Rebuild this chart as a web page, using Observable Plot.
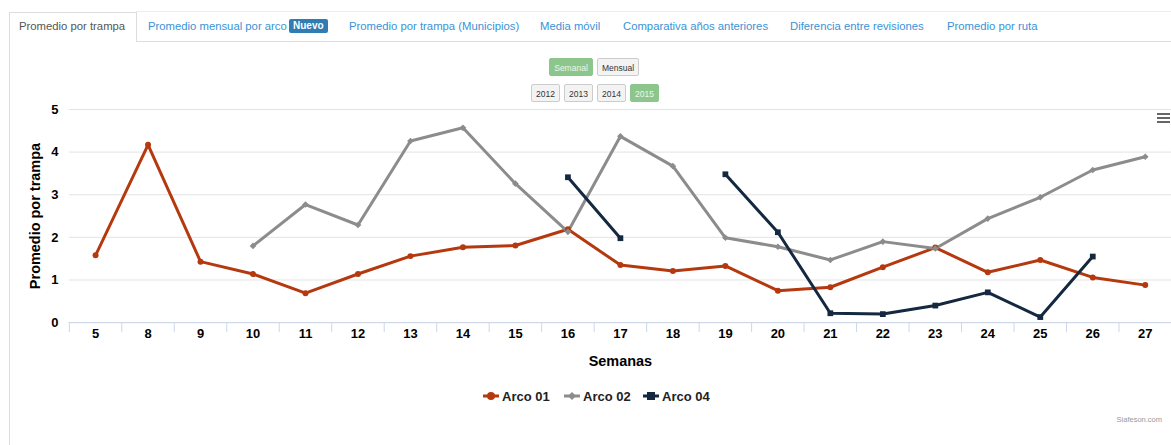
<!DOCTYPE html>
<html>
<head>
<meta charset="utf-8">
<script src="https://cdn.jsdelivr.net/npm/d3@7"></script>
<script src="https://cdn.jsdelivr.net/npm/@observablehq/plot@0.6"></script>
<style>
  html, body { margin:0; padding:0; background:#fff; }
  body { width:1171px; height:445px; overflow:hidden; position:relative; font-family:"Liberation Sans", Arial, sans-serif; }
  .abs { position:absolute; }
  .tab { position:absolute; top:19px; font-size:11.3px; line-height:14px; color:#3a93d6; white-space:nowrap; }
  .tab.active { color:#555; }
  .badge { position:absolute; top:19px; height:14px; line-height:14px; background:#2f7db3; color:#fff; font-weight:bold; font-size:10px; padding:0 4px; border-radius:2px; }
  .btn { position:absolute; height:18px; line-height:18px; font-size:8.5px; text-align:center; color:#333; background:#f3f3f3; border:1px solid #ccc; border-radius:2px; box-sizing:border-box; }
  .btn.on { background:#8dc68d; border-color:#8dc68d; color:#eaf6ea; }
  .legend { position:absolute; top:388px; left:0; width:1171px; height:16px; font-weight:bold; font-size:13px; color:#222; }
  .litem { position:absolute; top:0; display:flex; align-items:center; height:16px; }
  .litem svg { margin-right:3px; }
</style>
</head>
<body>
<div class="abs" style="left:136px;top:11px;width:1035px;height:1px;background:#eee"></div>
<div class="abs" style="left:9px;top:12px;width:126px;height:29px;border:1px solid #ddd;border-bottom:none;background:#fff"></div>
<div class="abs" style="left:136px;top:41px;width:1035px;height:1px;background:#ddd"></div>
<div class="abs" style="left:9px;top:41px;width:1px;height:404px;background:#ddd"></div>
<div id="tabs"></div>
<div id="buttons"></div>
<div class="abs" style="left:1157px;top:113px;width:13px;height:2px;background:#666"></div>
<div class="abs" style="left:1157px;top:117px;width:13px;height:2px;background:#666"></div>
<div class="abs" style="left:1157px;top:121px;width:13px;height:2px;background:#666"></div>
<div id="chart" class="abs" style="left:0;top:100px"></div>
<div id="legend" class="legend"></div>
<div class="abs" style="right:9px;top:415px;font-size:7.5px;color:#999;white-space:nowrap">Siafeson.com</div>
<script>
// ---- data ----
const weeks = ["5","8","9","10","11","12","13","14","15","16","17","18","19","20","21","22","23","24","25","26","27"];
const arco01 = [1.58, 4.17, 1.43, 1.14, 0.69, 1.14, 1.56, 1.77, 1.81, 2.19, 1.35, 1.21, 1.33, 0.75, 0.83, 1.30, 1.76, 1.18, 1.47, 1.06, 0.88];
const arco02 = [null, null, null, 1.80, 2.77, 2.29, 4.26, 4.57, 3.26, 2.13, 4.37, 3.67, 1.99, 1.78, 1.47, 1.90, 1.74, 2.44, 2.94, 3.58, 3.89];
const arco04 = [null, null, null, null, null, null, null, null, null, 3.41, 1.98, null, 3.48, 2.12, 0.22, 0.20, 0.40, 0.71, 0.13, 1.55, null];
const seriesNames = ["Arco 01", "Arco 02", "Arco 04"];
const seriesColors = ["#b5390f", "#8c8c8c", "#142840"];
const seriesSymbols = ["circle", "diamond2", "square"];
const yTicks = [0, 1, 2, 3, 4, 5];
const tabLabels = ["Promedio por trampa", "Promedio mensual por arco", "Promedio por trampa (Municipios)", "Media móvil", "Comparativa años anteriores", "Diferencia entre revisiones", "Promedio por ruta"];
const periodButtons = ["Semanal", "Mensual"];
const yearButtons = ["2012", "2013", "2014", "2015"];

// ---- header (tabs & buttons) ----
const tabX = [19, 148, 349, 540, 623, 790, 947];
const tabs = document.getElementById("tabs");
tabLabels.forEach((t, i) => {
  const s = document.createElement("div");
  s.className = "tab" + (i === 0 ? " active" : "");
  s.style.left = tabX[i] + "px";
  s.textContent = t;
  tabs.appendChild(s);
});
const badge = document.createElement("div");
badge.className = "badge"; badge.style.left = "289px"; badge.textContent = "Nuevo";
tabs.appendChild(badge);

const btns = document.getElementById("buttons");
const pb = [[549, 44], [597, 42]];
periodButtons.forEach((t, i) => {
  const b = document.createElement("div");
  b.className = "btn" + (i === 0 ? " on" : "");
  b.style.left = pb[i][0] + "px"; b.style.width = pb[i][1] + "px"; b.style.top = "58px";
  b.textContent = t; btns.appendChild(b);
});
yearButtons.forEach((t, i) => {
  const b = document.createElement("div");
  b.className = "btn" + (i === 3 ? " on" : "");
  b.style.left = (531 + 33 * i) + "px"; b.style.width = "29px"; b.style.top = "84px";
  b.textContent = t; btns.appendChild(b);
});

// ---- chart ----
const rows = [];
[arco01, arco02, arco04].forEach((arr, s) => {
  arr.forEach((v, i) => rows.push({i, week: weeks[i], serie: seriesNames[s], value: v}));
});
const boundaries = d3.range(weeks.length + 1).map(i => i - 0.5);
const idx = weeks.map((d, i) => i);

const chart = Plot.plot({
  width: 1174,
  height: 280,
  marginTop: 9,
  marginBottom: 57.3,
  marginLeft: 69,
  marginRight: 0,
  style: {fontFamily: "'Liberation Sans', Arial, sans-serif", color: "#000", background: "transparent", overflow: "visible"},
  x: {type: "linear", domain: [-0.5, weeks.length - 0.5]},
  y: {domain: [0, 5]},
  color: {domain: seriesNames, range: seriesColors},
  symbol: {domain: seriesNames, range: seriesSymbols},
  marks: [
    Plot.gridY(yTicks, {stroke: "#e3e3e3", strokeOpacity: 1}),
    Plot.axisY(yTicks, {tickSize: 0, tickPadding: 11, fontSize: 13, fontWeight: "bold",
      label: "Promedio por trampa", labelAnchor: "center", labelArrow: "none", labelOffset: 40}),
    Plot.axisX(boundaries, {tickSize: 10, stroke: "#ccd6eb", tickFormat: () => "", label: null}),
    Plot.axisX(idx, {tickSize: 0, tickPadding: 6, fontSize: 13, fontWeight: "bold", tickFormat: i => weeks[i],
      label: "Semanas", labelAnchor: "center", labelArrow: "none", labelOffset: 43}),
    Plot.ruleY([0], {stroke: "#ccd6eb"}),
    Plot.line(rows, {x: "i", y: "value", z: "serie", stroke: "serie", strokeWidth: 3}),
    Plot.dot(rows.filter(d => d.value != null), {x: "i", y: "value", fill: "serie", symbol: "serie",
      r: d => d.serie === "Arco 04" ? 4.7 : 4})
  ]
});
chart.querySelectorAll("g[aria-label='y-axis label'] text, g[aria-label='x-axis label'] text").forEach(t => {
  t.setAttribute("font-weight", "bold"); t.setAttribute("font-size", "14.5");
});
document.getElementById("chart").appendChild(chart);

// ---- legend ----
const leg = document.getElementById("legend");
const legX = [483, 564, 643];
seriesNames.forEach((n, s) => {
  const it = document.createElement("div");
  it.className = "litem"; it.style.left = legX[s] + "px";
  const mark = seriesSymbols[s] === "circle"
    ? `<circle cx="8" cy="8" r="4" fill="${seriesColors[s]}"/>`
    : seriesSymbols[s] === "square"
      ? `<rect x="4" y="4" width="8" height="8" fill="${seriesColors[s]}"/>`
      : `<path d="M8 4 L12 8 L8 12 L4 8Z" fill="${seriesColors[s]}"/>`;
  it.innerHTML = `<svg width="16" height="16"><line x1="0" x2="16" y1="8" y2="8" stroke="${seriesColors[s]}" stroke-width="3"/>${mark}</svg><span>${n}</span>`;
  leg.appendChild(it);
});
</script>
</body>
</html>
